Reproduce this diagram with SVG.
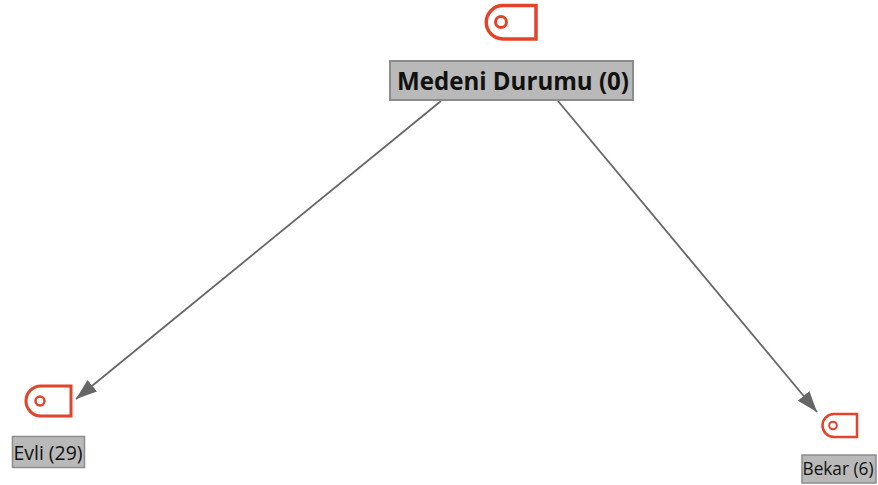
<svg xmlns="http://www.w3.org/2000/svg" width="878" height="485" viewBox="0 0 878 485">
<style>
.box{fill:#b9b9b9;stroke:#8c8c8c}
.tag{fill:none;stroke:#e2432a}
.t{font-family:"Open Sans","Noto Sans",sans-serif;fill:#111;text-anchor:middle}
.c{stroke:#666;stroke-width:1.800;fill:none;marker-end:url(#a)}
</style>
<defs><marker id="a" markerUnits="userSpaceOnUse" markerWidth="22" markerHeight="18" refX="21" refY="9" orient="auto"><path d="M0,1.500L21,9L0,16.500Z" fill="#666"/></marker></defs>
<g id="connectors">
<path class="c" d="M441,101L76,399"/>
<path class="c" d="M558,101L817,412"/>
</g>
<g id="n0">
<path class="tag" stroke-width="3.500" d="M536,5.500V39H503A16.750,16.750 0 0 1 503,5.500Z"/>
<circle class="tag" stroke-width="3" cx="501" cy="22" r="5.500"/>
<rect class="box" stroke-width="2" x="390" y="61" width="243" height="39"/>
<text class="t" x="513" y="90" font-size="25" font-weight="700" textLength="232" lengthAdjust="spacingAndGlyphs">Medeni Durumu (0)</text>
</g>
<g id="n1">
<path class="tag" stroke-width="3" d="M71,386V416H41A15,15 0 0 1 41,386Z"/>
<circle class="tag" stroke-width="2.500" cx="40" cy="401" r="4.500"/>
<rect class="box" stroke-width="1.500" x="12.500" y="436.500" width="72" height="31"/>
<text class="t" x="48" y="460" font-size="20" textLength="69" lengthAdjust="spacingAndGlyphs">Evli (29)</text>
</g>
<g id="n2">
<path class="tag" stroke-width="2.500" d="M857,414V437H834A11.500,11.500 0 0 1 834,414Z"/>
<circle class="tag" stroke-width="2" cx="833" cy="425.500" r="3.800"/>
<rect class="box" stroke-width="1.500" x="802" y="455" width="74" height="28"/>
<text class="t" x="838" y="475" font-size="18" textLength="71" lengthAdjust="spacingAndGlyphs">Bekar (6)</text>
</g>
</svg>
